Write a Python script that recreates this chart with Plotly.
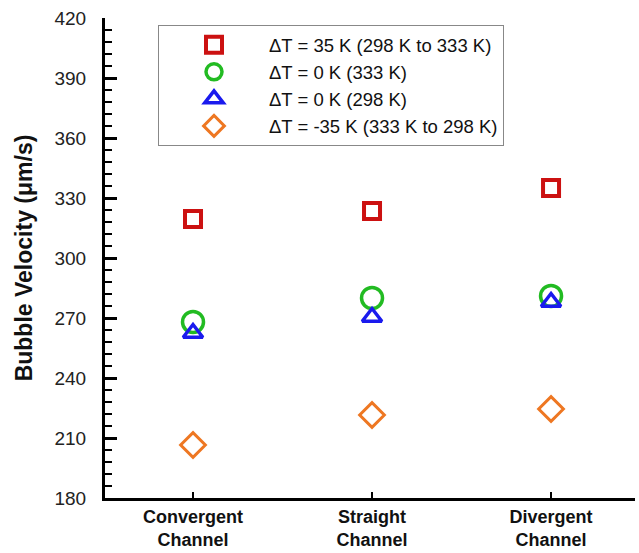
import plotly.graph_objects as go

categories = ["Convergent<br>Channel", "Straight<br>Channel", "Divergent<br>Channel"]
cat_pos = [0, 1, 2]

dt35 = [319.5, 323.5, 335.0]
dt0_333 = [268.0, 280.0, 281.0]
dt0_298 = [262.5, 270.5, 278.0]
dtm35 = [206.5, 221.5, 224.5]

series = [
    ("ΔT = 35 K (298 K to 333 K)", dt35, "square-open", "#cc1111", 16, 4),
    ("ΔT = 0 K (333 K)", dt0_333, "circle-open", "#22bb22", 21, 3.5),
    ("ΔT = 0 K (298 K)", dt0_298, "triangle-up-open", "#1a1aee", 17, 3.5),
    ("ΔT = -35 K (333 K to 298 K)", dtm35, "diamond-open", "#ee7722", 19, 3),
]

fig = go.Figure()
for name, vals, sym, col, sz, lw in series:
    fig.add_trace(go.Scatter(
        x=cat_pos, y=vals, mode="markers", name=name,
        marker=dict(symbol=sym, size=sz, color=col, line=dict(width=lw, color=col)),
    ))

fig.update_layout(
    width=639, height=553,
    margin=dict(l=105, r=4, t=18, b=55),
    paper_bgcolor="white", plot_bgcolor="white",
    font=dict(family="Liberation Sans, Arial, sans-serif", color="#111"),
    showlegend=True,
    legend=dict(
        x=0.1, y=0.985, xanchor="left", yanchor="top",
        bordercolor="#888", borderwidth=1, bgcolor="white",
        font=dict(size=18.5, color="#111"),
        itemwidth=100,
    ),
)

fig.update_xaxes(
    range=[-0.4916, 2.469],
    tickvals=cat_pos, ticktext=categories,
    showline=True, linecolor="black", linewidth=3,
    ticks="inside", ticklen=6, tickwidth=1.5, tickcolor="black",
    showgrid=False, zeroline=False,
    tickfont=dict(size=18, family="Liberation Sans, Arial, sans-serif", weight="bold", color="#111"),
    ticklabelstandoff=0,
    automargin=False,
)

fig.update_yaxes(
    range=[180, 420], dtick=30, tick0=180,
    showline=True, linecolor="black", linewidth=3,
    ticks="inside", ticklen=12, tickwidth=2.5, tickcolor="black",
    minor=dict(dtick=6, ticks="inside", ticklen=7, tickwidth=1.5, tickcolor="black"),
    showgrid=False, zeroline=False,
    tickfont=dict(size=19, color="#222"),
    ticklabelstandoff=12,
    automargin=False,
    title=dict(text="Bubble Velocity (μm/s)", font=dict(size=23, weight="bold", color="#111"), standoff=16),
)

fig.write_html("out.html")
